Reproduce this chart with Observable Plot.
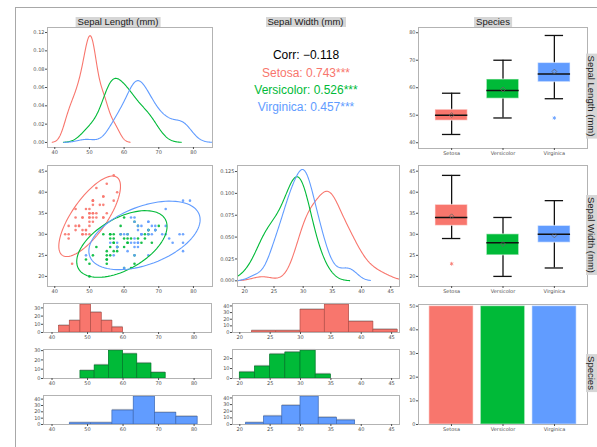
<!DOCTYPE html>
<html>
<head>
<meta charset="utf-8">
<script src="https://cdn.jsdelivr.net/npm/d3@7"></script>
<script src="https://cdn.jsdelivr.net/npm/@observablehq/plot@0.6"></script>
<style>
  body { margin: 0; background: #fff; }
  #chart { position: relative; width: 597px; height: 447px; overflow: hidden; background: #fff;
           font-family: "Liberation Sans", Arial, sans-serif; }
  #outer { position: absolute; left: 15px; top: 7px; width: 600px; height: 460px; border: 1px solid #a8a8a8; box-sizing: border-box; }
  .panel { position: absolute; overflow: visible; }
  .strip { position: absolute; background: #d6d6d6; color: #1a1a1a; font-size: 9.5px; line-height: 10px;
           height: 10px; white-space: nowrap; padding: 0 2px; transform: translateX(-50%); }
  .vstrip { position: absolute; background: #d6d6d6; color: #1a1a1a; font-size: 9.5px; line-height: 11px;
            width: 11px; white-space: nowrap; writing-mode: vertical-rl; padding: 2px 0; transform: translateY(-50%); }
  .corr { position: absolute; font-size: 12px; line-height: 14px; white-space: nowrap; transform: translate(-50%, -50%); }
</style>
</head>
<body>
<div id="chart"><div id="outer"></div></div>
<script>
// Iris sepal measurements in millimetres, one array per species and variable
const species = ["Setosa", "Versicolor", "Virginica"];
const speciesColors = ["#F8766D", "#00BA38", "#619CFF"];
const speciesDark = ["#b34f48", "#00792a", "#3e6bb8"];

const setosaLength = [51,49,47,46,50,54,46,50,44,49,54,48,48,43,58,57,54,51,57,51,54,51,46,51,48,50,50,52,52,47,48,54,52,55,49,50,55,49,44,51,50,45,44,50,51,48,51,46,53,50];
const setosaWidth = [35,30,32,31,36,39,34,34,29,31,37,34,30,30,40,44,39,35,38,38,34,37,36,33,34,30,34,35,34,32,31,34,41,42,31,32,35,36,30,34,35,23,32,35,38,30,38,32,37,33];
const versicolorLength = [70,64,69,55,65,57,63,49,66,52,50,59,60,61,56,67,56,58,62,56,59,61,63,61,64,66,68,67,60,57,55,55,58,60,54,60,67,63,56,55,55,61,58,50,56,57,57,62,51,57];
const versicolorWidth = [32,32,31,23,28,28,33,24,29,27,20,30,22,29,29,31,30,27,22,25,32,28,25,28,29,30,28,30,29,26,24,24,27,27,30,34,31,23,30,25,26,30,26,23,27,30,29,29,25,28];
const virginicaLength = [63,58,71,63,65,76,49,73,67,72,65,64,68,57,58,64,65,77,77,60,69,56,77,63,67,72,62,61,64,72,74,79,64,63,61,77,63,64,60,69,67,69,58,68,67,67,63,65,62,59];
const virginicaWidth = [33,27,30,29,30,30,25,29,25,36,32,27,30,25,28,32,30,38,26,22,32,28,28,27,33,32,28,30,28,30,28,38,28,28,26,30,34,31,30,31,31,31,27,32,33,30,25,30,34,30];

// Axis ticks
const lengthTicks = [40, 50, 60, 70, 80];
const widthTicks = [20, 25, 30, 35, 40, 45];
const lengthDensityTicks = [0, 0.02, 0.04, 0.06, 0.08, 0.10, 0.12];
const widthDensityTicks = [0, 0.025, 0.05, 0.075, 0.1, 0.125];
const countTicks = [0, 10, 20, 30, 40, 50];

// Histogram bin edges per species
const setosaLengthBins = [42, 45, 48, 51, 54, 57, 60];
const versicolorLengthBins = [48, 52, 56, 60, 64, 68, 72];
const virginicaLengthBins = [45, 51, 57, 63, 69, 75, 81];
const setosaWidthBins = [22, 26, 30, 34, 38, 42, 46];
const versicolorWidthBins = [20, 22.5, 25, 27.5, 30, 32.5, 35];
const virginicaWidthBins = [21, 24, 27, 30, 33, 36, 39];

// Significance marks for the correlation labels (overall, then per species)
const corrStars = ["", "***", "***", "***"];

const lengths = [setosaLength, versicolorLength, virginicaLength];
const widths = [setosaWidth, versicolorWidth, virginicaWidth];
const lengthBins = [setosaLengthBins, versicolorLengthBins, virginicaLengthBins];
const widthBins = [setosaWidthBins, versicolorWidthBins, virginicaWidthBins];

const rows = species.flatMap((s, i) => lengths[i].map((L, j) => ({species: s, length: L, width: widths[i][j]})));
const color = {domain: species, range: speciesColors};

// ---- statistics ----
// Scott-style normal reference bandwidth (bw.nrd)
function bwNrd(v) {
  const s = v.slice().sort(d3.ascending);
  const hi = d3.deviation(s);
  const iqr = d3.quantile(s, 0.75) - d3.quantile(s, 0.25);
  const lo = Math.min(hi, iqr / 1.34) || hi;
  return 1.06 * lo * Math.pow(s.length, -0.2);
}
function kde(name, v, cut = 2.6, steps = 256) {
  const bw = bwNrd(v);
  const lo = d3.min(v) - cut * bw, hi = d3.max(v) + cut * bw;
  const out = [];
  for (let k = 0; k < steps; k++) {
    const x = lo + (hi - lo) * k / (steps - 1);
    let s = 0;
    for (const xi of v) { const u = (x - xi) / bw; s += Math.exp(-0.5 * u * u); }
    out.push({species: name, x, density: s / (v.length * bw * Math.sqrt(2 * Math.PI))});
  }
  return out;
}
// Tukey five-number summary (hinges) with 1.5 IQR whiskers
function boxStats(name, v) {
  const s = v.slice().sort(d3.ascending), n = s.length;
  const at = d => 0.5 * (s[Math.floor(d) - 1] + s[Math.ceil(d) - 1]);
  const n4 = Math.floor((n + 3) / 2) / 2;
  const q1 = at(n4), med = at((n + 1) / 2), q3 = at(n + 1 - n4);
  const iqr = q3 - q1;
  const lo = d3.min(s.filter(d => d >= q1 - 1.5 * iqr));
  const hi = d3.max(s.filter(d => d <= q3 + 1.5 * iqr));
  return {species: name, q1, med, q3, lo, hi, mean: d3.mean(s), outliers: s.filter(d => d < lo || d > hi)};
}
function fQuantileDf2(p, d2) { return d2 / 2 * (Math.pow(1 - p, -2 / d2) - 1); }
function ellipse(name, xs, ys, level = 0.95, segments = 90) {
  const n = xs.length, mx = d3.mean(xs), my = d3.mean(ys);
  let sxx = 0, syy = 0, sxy = 0;
  for (let i = 0; i < n; i++) {
    const dx = xs[i] - mx, dy = ys[i] - my;
    sxx += dx * dx; syy += dy * dy; sxy += dx * dy;
  }
  sxx /= n - 1; syy /= n - 1; sxy /= n - 1;
  const a = Math.sqrt(sxx), b = sxy / a, c = Math.sqrt(syy - b * b);
  const r = Math.sqrt(2 * fQuantileDf2(level, n - 1));
  const pts = [];
  for (let k = 0; k <= segments; k++) {
    const t = 2 * Math.PI * k / segments, u = Math.cos(t), w = Math.sin(t);
    pts.push({species: name, x: mx + r * u * a, y: my + r * (u * b + w * c)});
  }
  return pts;
}
function pearson(xs, ys) {
  const mx = d3.mean(xs), my = d3.mean(ys);
  let sxy = 0, sxx = 0, syy = 0;
  for (let i = 0; i < xs.length; i++) {
    const dx = xs[i] - mx, dy = ys[i] - my;
    sxy += dx * dy; sxx += dx * dx; syy += dy * dy;
  }
  return sxy / Math.sqrt(sxx * syy);
}
function histogram(v, edges) {
  const bins = d3.bin().domain([edges[0], edges[edges.length - 1]]).thresholds(edges.slice(1, -1))(v);
  return bins.map(b => ({x0: b.x0, x1: b.x1, pct: b.length * 100 / v.length}));
}

// ---- layout helper: places a plot so its frame lands on the given box ----
const chart = document.getElementById("chart");
const M = {l: 26, r: 3, t: 3, b: 12};
const axisStyle = {tickSize: 2, tickPadding: 1, fontSize: 5, color: "#4d4d4d", label: null};
function panel([x0, y0, x1, y1], opts) {
  const svg = Plot.plot({
    width: x1 - x0 + M.l + M.r, height: y1 - y0 + M.t + M.b,
    marginLeft: M.l, marginRight: M.r, marginTop: M.t, marginBottom: M.b,
    style: {fontSize: "5px", fontFamily: "DejaVu Sans, sans-serif", background: "transparent", overflow: "visible", color: "#4d4d4d"},
    color, ...opts
  });
  svg.classList.add("panel");
  svg.style.left = (x0 - M.l) + "px";
  svg.style.top = (y0 - M.t) + "px";
  chart.appendChild(svg);
}
const frame = Plot.frame({stroke: "#b3b3b3"});

// Sepal length densities
const lengthDensity = species.flatMap((s, i) => kde(s, lengths[i]));
panel([47, 27, 212, 147], {
  x: {domain: [37.9, 85.5]}, y: {domain: [-0.0055, 0.1255]},
  marks: [
    Plot.line(lengthDensity, {x: "x", y: "density", z: "species", stroke: "species", strokeWidth: 1.1, clip: true}),
    frame,
    Plot.axisX({ticks: lengthTicks, ...axisStyle}),
    Plot.axisY({ticks: lengthDensityTicks, tickFormat: d3.format(".2f"), ...axisStyle})
  ]
});

// Scatter with 95% ellipses
const ellipses = species.flatMap((s, i) => ellipse(s, lengths[i], widths[i]));
panel([47, 165, 212, 286], {
  x: {domain: [37.9, 85.5]}, y: {domain: [17.6, 46.35]},
  marks: [
    Plot.dot(rows, {x: "length", y: "width", fill: "species", r: 1.3, fillOpacity: 0.9}),
    Plot.line(ellipses, {x: "x", y: "y", z: "species", stroke: "species", strokeWidth: 1.1}),
    frame,
    Plot.axisX({ticks: lengthTicks, ...axisStyle}),
    Plot.axisY({ticks: widthTicks, ...axisStyle})
  ]
});

// Sepal width densities
const widthDensity = species.flatMap((s, i) => kde(s, widths[i]));
panel([237, 165, 399, 286], {
  x: {domain: [18.75, 46.5]}, y: {domain: [-0.0065, 0.1319]},
  marks: [
    Plot.line(widthDensity, {x: "x", y: "density", z: "species", stroke: "species", strokeWidth: 1.1, clip: true}),
    frame,
    Plot.axisX({ticks: widthTicks, ...axisStyle}),
    Plot.axisY({ticks: widthDensityTicks, tickFormat: d3.format(".3f"), ...axisStyle})
  ]
});

// Box plots by species
function boxPanel(box, vals, domain, ticks) {
  const stats = species.map((s, i) => boxStats(s, vals[i]));
  const outliers = stats.flatMap(d => d.outliers.map(v => ({species: d.species, v})));
  panel(box, {
    x: {type: "band", domain: species, paddingInner: 0.37, paddingOuter: 0.33, round: false},
    y: {domain},
    marks: [
      Plot.ruleX(stats, {x: "species", y1: "lo", y2: "hi", stroke: "#111", strokeWidth: 1.3}),
      Plot.tickY(stats, {x: "species", y: "lo", insetLeft: 7, insetRight: 7, stroke: "#111", strokeWidth: 1.3}),
      Plot.tickY(stats, {x: "species", y: "hi", insetLeft: 7, insetRight: 7, stroke: "#111", strokeWidth: 1.3}),
      Plot.barY(stats, {x: "species", y1: "q1", y2: "q3", fill: "species", stroke: "#fff", strokeOpacity: 0.5, strokeWidth: 1.2}),
      Plot.tickY(stats, {x: "species", y: "med", stroke: "#111", strokeWidth: 1.5}),
      Plot.dot(stats, {x: "species", y: "mean", symbol: "diamond2", r: 2.2, stroke: "#666", strokeWidth: 0.8}),
      Plot.dot(outliers, {x: "species", y: "v", symbol: "asterisk", r: 1.8, stroke: "species", strokeWidth: 0.8}),
      frame,
      Plot.axisX({...axisStyle}),
      Plot.axisY({ticks, ...axisStyle})
    ]
  });
}
boxPanel([418, 27, 587, 148], lengths, [37.9, 81.9], lengthTicks);
boxPanel([418, 165, 587, 286], widths, [17.6, 46.35], widthTicks);

// Per-species histograms (percent of species)
const histRows = [[303, 332], [349, 378], [395, 424]];
function histPanel(box, v, edges, i, xDomain, xTicks) {
  const h = histogram(v, edges);
  const top = d3.max(h, d => d.pct) * 1.04;
  panel(box, {
    x: {domain: xDomain}, y: {domain: [0, top]},
    marks: [
      Plot.rectY(h, {x1: "x0", x2: "x1", y: "pct", fill: "#c4c4c4", dy: -1.2}),
      Plot.rectY(h, {x1: "x0", x2: "x1", y: "pct", fill: speciesColors[i], stroke: speciesDark[i], strokeWidth: 0.7}),
      frame,
      Plot.axisX({ticks: xTicks, ...axisStyle}),
      Plot.axisY({ticks: d3.range(0, top, 10), ...axisStyle})
    ]
  });
}
species.forEach((s, i) => {
  const [y0, y1] = histRows[i];
  histPanel([43, y0, 211, y1], lengths[i], lengthBins[i], i, [37.6, 84.9], lengthTicks);
  histPanel([232, y0, 399, y1], widths[i], widthBins[i], i, [18.8, 46.3], widthTicks);
});

// Counts per species
const counts = species.map((s, i) => ({species: s, n: lengths[i].length}));
panel([418, 304, 587, 424], {
  x: {type: "band", domain: species, paddingInner: 0.14, paddingOuter: 0.21, round: false},
  y: {domain: [0, 50.7]},
  marks: [
    Plot.barY(counts, {x: "species", y: "n", fill: "species", stroke: "#fff", strokeOpacity: 0.45, strokeWidth: 1.2}),
    frame,
    Plot.axisX({...axisStyle}),
    Plot.axisY({ticks: countTicks, ...axisStyle})
  ]
});

// Correlation text
const allLength = lengths.flat(), allWidth = widths.flat();
const fmt = r => d3.format(".3f")(r).replace("-", "\u2212");
const corrLines = [
  {text: `Corr: ${fmt(pearson(allLength, allWidth))}${corrStars[0]}`, color: "#000"},
  ...species.map((s, i) => ({text: `${s}: ${fmt(pearson(lengths[i], widths[i]))}${corrStars[i + 1]}`, color: speciesColors[i]}))
];
const corrY = [55, 72.7, 90, 107.3];
corrLines.forEach((d, k) => {
  const el = document.createElement("div");
  el.className = "corr";
  el.style.left = "306px";
  el.style.top = corrY[k] + "px";
  el.style.color = d.color;
  el.textContent = d.text;
  chart.appendChild(el);
});

// Strip labels
[["Sepal Length (mm)", 118], ["Sepal Width (mm)", 305.5], ["Species", 493]].forEach(([t, cx]) => {
  const el = document.createElement("div");
  el.className = "strip";
  el.style.left = cx + "px";
  el.style.top = "17px";
  el.textContent = t;
  chart.appendChild(el);
});
[["Sepal Length (mm)", 96], ["Sepal Width (mm)", 235], ["Species", 373]].forEach(([t, cy]) => {
  const el = document.createElement("div");
  el.className = "vstrip";
  el.style.left = "586px";
  el.style.top = cy + "px";
  el.textContent = t;
  chart.appendChild(el);
});
</script>
</body>
</html>
